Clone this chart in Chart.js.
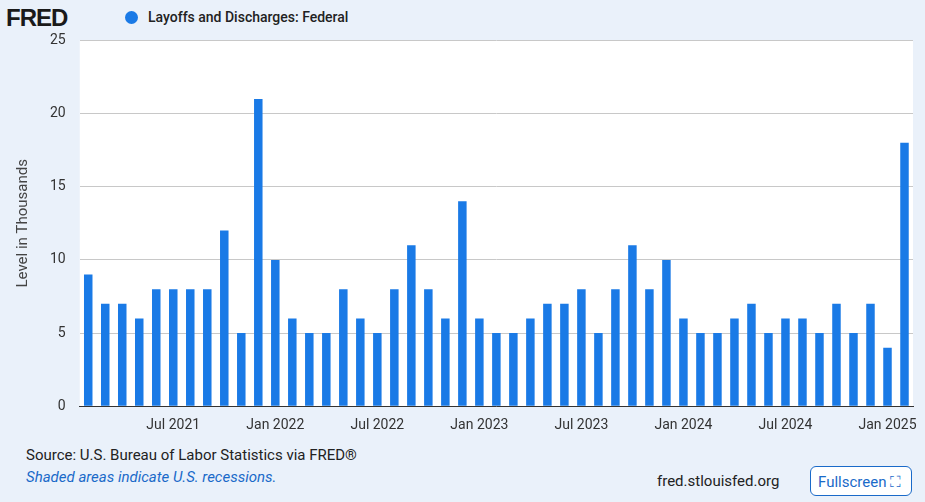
<!DOCTYPE html>
<html><head><meta charset="utf-8">
<script src="https://cdn.jsdelivr.net/npm/chart.js@4"></script>
<style>
body{margin:0;background:#eaf1fa;font-family:Roboto,"Open Sans",sans-serif;width:925px;height:502px;position:relative;overflow:hidden}
#logo{position:absolute;left:6px;top:4px;font:bold 24px "Liberation Sans",Arial;color:#1a1a1a;letter-spacing:-1px}
#leg{position:absolute;left:125px;top:9px;font-size:14px;color:#222;font-weight:500}
#leg span{display:inline-block;width:13px;height:13px;border-radius:50%;background:#1a7ae6;vertical-align:-2px;margin-right:10px}
#wrap{position:absolute;left:0;top:18px;width:925px;height:419px}
#src{position:absolute;left:26px;top:446px;font-size:15px;color:#222}
#shade{position:absolute;left:26px;top:468px;font-size:15px;color:#1a6ac9;font-style:italic}
#fred{position:absolute;left:657px;top:472px;font-size:15px;color:#222}
#fs{position:absolute;left:810px;top:466px;width:102px;height:30px;border:1px solid #1a6ac9;border-radius:6px;background:#fff;font-size:15px;color:#1a6ac9;line-height:30px;text-align:left;padding-left:7px;box-sizing:border-box}
</style></head><body>
<div id="logo">FRED</div>
<div id="leg"><span></span>Layoffs and Discharges: Federal</div>
<div id="wrap"><canvas id="c"></canvas></div>
<div id="src">Source: U.S. Bureau of Labor Statistics via FRED®</div>
<div id="shade">Shaded areas indicate U.S. recessions.</div>
<div id="fred">fred.stlouisfed.org</div>
<div id="fs">Fullscreen ⛶</div>
<script>
const months=["Jan","Feb","Mar","Apr","May","Jun","Jul","Aug","Sep","Oct","Nov","Dec"];
const startYear=2021,startMonth=1;
const values=[9,7,7,6,8,8,8,8,12,5,21,10,6,5,5,8,6,5,8,11,8,6,14,6,5,5,6,7,7,8,5,8,11,8,10,6,5,5,6,7,5,6,6,5,7,5,7,4,18];
const categories=values.map((v,i)=>{const m=(startMonth+i)%12;const y=startYear+Math.floor((startMonth+i)/12);return months[m]+" "+y;});
const yTicks=[0,5,10,15,20,25];
new Chart(document.getElementById('c'),{type:'bar',
data:{labels:categories,datasets:[{data:values,backgroundColor:'#1a7ae6',barPercentage:0.5,categoryPercentage:1}]},
options:{responsive:true,maintainAspectRatio:false,animation:false,
layout:{padding:{left:10,right:12,top:0}},
plugins:{legend:{display:false},tooltip:{enabled:false}},
scales:{
x:{grid:{display:false},border:{color:'#333'},ticks:{autoSkip:false,maxRotation:0,color:'#333',font:{size:14,family:'Roboto'},
 callback:function(v,i){const l=categories[i];return (l.startsWith('Jan')||l.startsWith('Jul'))?l:'';}}},
y:{min:0,max:25,afterBuildTicks:a=>{a.ticks=yTicks.map(v=>({value:v}));},
 grid:{color:'#c8c8c8',drawTicks:false},border:{display:false},
 ticks:{color:'#333',font:{size:14,family:'Roboto'},padding:14},
 title:{display:true,text:'Level in Thousands',color:'#444',font:{size:15,family:'Roboto'}}}}},
plugins:[{id:'bg',beforeDraw(ch){const a=ch.chartArea,c=ch.ctx;c.save();c.fillStyle='#fff';c.fillRect(a.left,a.top,a.right-a.left,a.bottom-a.top);c.restore();}}]
});
</script></body></html>
